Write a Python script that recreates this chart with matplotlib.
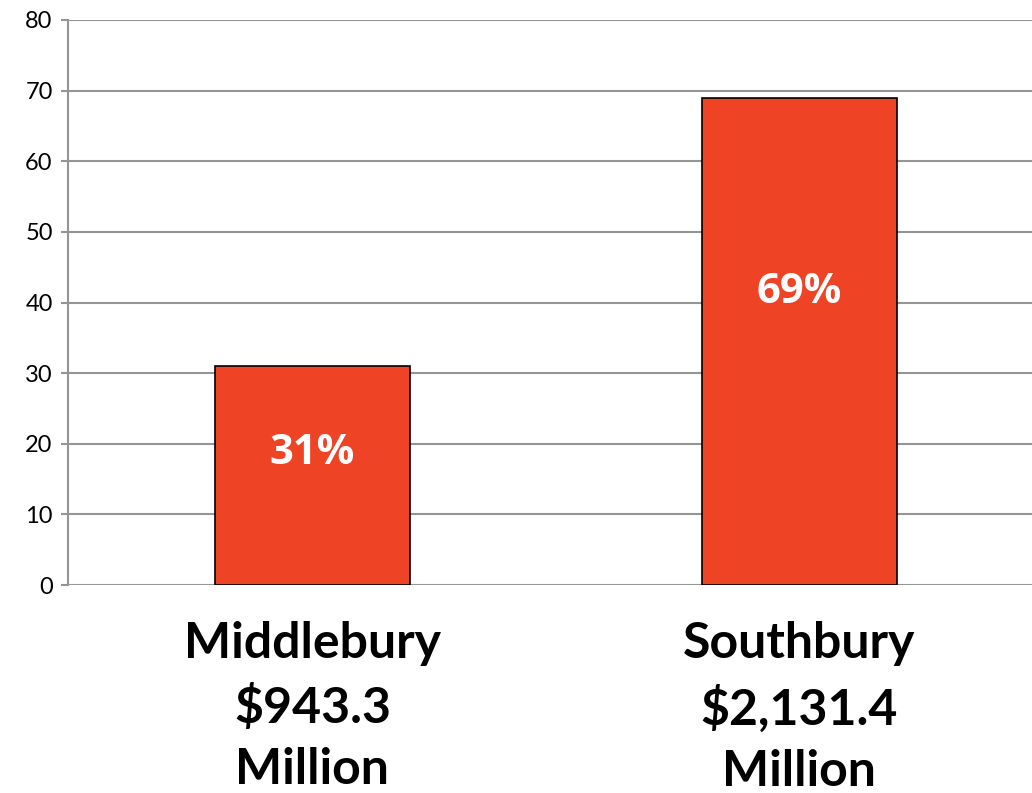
import matplotlib.pyplot as plt

# Data
categories = ["Middlebury\n$943.3\nMillion", "Southbury\n$2,131.4\nMillion"]
shares = [31, 69]
share_labels = ["31%", "69%"]
y_ticks = [0, 10, 20, 30, 40, 50, 60, 70, 80]

grid_color = "#959595"
bar_color = "#EF4326"

fig = plt.figure(figsize=(10.32, 7.93), dpi=100)
ax = fig.add_axes([68 / 1032, 1 - 585 / 793, 1 - 68 / 1032, (585 - 20) / 793])

x = list(range(len(categories)))
ax.bar(x, shares, width=0.40, color=bar_color, edgecolor="black", linewidth=1.2, zorder=3)

# percent labels inside bars
for xi, v, lab in zip(x, shares, share_labels):
    ax.text(xi, v * 0.6, lab, ha="center", va="center", color="white",
            fontsize=30, fontweight="bold", family="Open Sans", zorder=4)

ax.set_ylim(0, 80)
ax.set_xlim(-0.502, 1.478)
ax.set_yticks(y_ticks)
ax.yaxis.grid(True, color=grid_color, linewidth=1.5, zorder=0)
ax.set_axisbelow(True)

for side in ["top", "right", "bottom"]:
    ax.spines[side].set_visible(False)
ax.spines["left"].set_color(grid_color)
ax.spines["left"].set_linewidth(1.5)

ax.tick_params(axis="y", direction="out", length=5, width=1.5, color=grid_color,
               labelsize=17, pad=6)
for lbl in ax.get_yticklabels():
    lbl.set_family("Lato")

ax.set_xticks(x)
ax.set_xticklabels(categories, fontsize=36, fontweight="bold", family="Lato",
                   linespacing=1.45)
ax.tick_params(axis="x", length=0, pad=26)

plt.savefig("out.png", dpi=100)
